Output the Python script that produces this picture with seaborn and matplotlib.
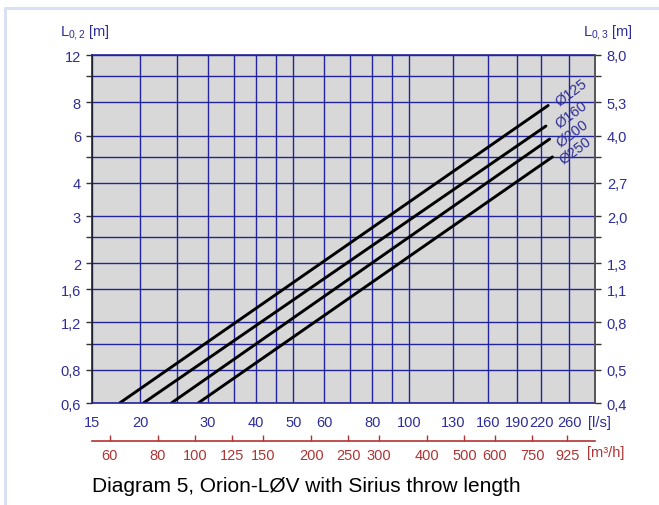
import numpy as np
import pandas as pd
import matplotlib
matplotlib.use("Agg")
import matplotlib.pyplot as plt
import seaborn as sns
from matplotlib.ticker import FixedLocator, FixedFormatter, NullLocator
from matplotlib.lines import Line2D

# ---------------- data ----------------
diameters = ["Ø125", "Ø160", "Ø200", "Ø250"]
flow_start = [17.7, 20.4, 24.1, 28.3]      # l/s
flow_end = [229, 226, 231, 235]            # l/s
length_start = [0.6, 0.6, 0.6, 0.6]        # L0,2 [m]
length_end = [7.77, 6.51, 5.82, 4.99]      # L0,2 [m]

x_grid = [15, 20, 25, 30, 35, 40, 45, 50, 60, 70, 80, 90, 100, 130, 160, 190, 220, 260]
x_labels = ["15", "20", "", "30", "", "40", "", "50", "60", "", "80", "", "100",
            "130", "160", "190", "220", "260"]
y_grid = [0.6, 0.8, 1.0, 1.2, 1.6, 2, 2.5, 3, 4, 5, 6, 8, 10, 12]
y_left_labels = ["0,6", "0,8", "", "1,2", "1,6", "2", "", "3", "4", "", "6", "8", "", "12"]
y_right_labels = ["0,4", "0,5", "", "0,8", "1,1", "1,3", "", "2,0", "2,7", "", "4,0", "5,3", "", "8,0"]
m3h_ticks = [60, 80, 100, 125, 150, 200, 250, 300, 400, 500, 600, 750, 925]

# label anchor positions (l/s, m) for diameter annotations
label_q = [263, 263, 265, 270]
label_L = [8.75, 7.25, 6.15, 5.3]

df = pd.DataFrame({
    "dia": np.repeat(diameters, 2),
    "q": np.ravel(np.column_stack([flow_start, flow_end])),
    "L": np.ravel(np.column_stack([length_start, length_end])),
})

# ---------------- style ----------------
sns.set_style("white")
plt.rcParams["font.family"] = ["Liberation Sans", "DejaVu Sans"]
plt.rcParams["mathtext.fontset"] = "custom"
plt.rcParams["mathtext.rm"] = "Liberation Sans"
plt.rcParams["mathtext.it"] = "Liberation Sans"

navy = "#24249a"
blue_txt = "#2e2e98"
red = "#b03434"
bg = "#d8d8d8"
dark = "#333333"
fs = 10.5

fig = plt.figure(figsize=(6.59, 5.06), dpi=100)
ax = fig.add_axes([92 / 659, 1 - 404 / 506, 503 / 659, 348 / 506])
ax.set_facecolor(bg)
ax.set_xscale("log")
ax.set_yscale("log")

sns.lineplot(data=df, x="q", y="L", units="dia", estimator=None, color="black",
             linewidth=2.1, ax=ax, legend=False)

ax.set_xlim(15, 303)
ax.set_ylim(0.6, 12)

ax.xaxis.set_major_locator(FixedLocator(x_grid))
ax.xaxis.set_major_formatter(FixedFormatter(x_labels))
ax.xaxis.set_minor_locator(NullLocator())
ax.yaxis.set_major_locator(FixedLocator(y_grid))
ax.yaxis.set_major_formatter(FixedFormatter(y_left_labels))
ax.yaxis.set_minor_locator(NullLocator())
ax.grid(True, which="major", color=navy, linewidth=1.0)
ax.set_axisbelow(True)
ax.set_xlabel("")
ax.set_ylabel("")

ax.tick_params(axis="x", direction="out", length=4.5, width=1.0, color=dark,
               labelcolor=blue_txt, labelsize=fs, pad=4)
ax.tick_params(axis="y", direction="out", length=4.5, width=1.0, color=dark,
               labelcolor=blue_txt, labelsize=fs, pad=3.5)
ax.spines["left"].set_color("#222222")
ax.spines["right"].set_color("#555555")
ax.spines["top"].set_color(navy)
ax.spines["bottom"].set_color(navy)
for s in ax.spines.values():
    s.set_linewidth(1.2)

# right axis (L0,3)
ax2 = ax.twinx()
ax2.set_yscale("log")
ax2.set_ylim(0.6, 12)
ax2.yaxis.set_major_locator(FixedLocator(y_grid))
ax2.yaxis.set_major_formatter(FixedFormatter(y_right_labels))
ax2.yaxis.set_minor_locator(NullLocator())
ax2.tick_params(axis="y", direction="out", length=4.5, width=1.0, color=dark,
                labelcolor=blue_txt, labelsize=fs, pad=4)
for side, s in ax2.spines.items():
    s.set_visible(side == "right")
ax2.spines["right"].set_color("#555555")
ax2.spines["right"].set_linewidth(1.2)

# secondary flow axis in m3/h
sec = ax.secondary_xaxis(-0.108, functions=(lambda q: q * 3.6, lambda m: m / 3.6))
sec.xaxis.set_major_locator(FixedLocator(m3h_ticks))
sec.xaxis.set_major_formatter(FixedFormatter([str(v) for v in m3h_ticks]))
sec.xaxis.set_minor_locator(NullLocator())
sec.spines["bottom"].set_color(red)
sec.spines["bottom"].set_linewidth(1.2)
sec.tick_params(axis="x", direction="in", length=4.5, width=1.0, color=red,
                labelcolor=red, labelsize=fs, pad=5)

# diameter labels
for name, q, L in zip(diameters, label_q, label_L):
    ax.text(q, L, name, rotation=37, ha="center", va="center",
            rotation_mode="anchor", color=blue_txt, fontsize=10.5, clip_on=False)

# axis titles and units
fig.text(60 / 659, 1 - 32 / 506, r"L$_{0,2}$ [m]", ha="left", va="center",
         color=blue_txt, fontsize=fs)
fig.text(583 / 659, 1 - 32 / 506, r"L$_{0,3}$ [m]", ha="left", va="center",
         color=blue_txt, fontsize=fs)
fig.text(588 / 659, 1 - 423 / 506, "[l/s]", ha="left", va="center",
         color=blue_txt, fontsize=fs)
fig.text(587 / 659, 1 - 453 / 506, "[m³/h]", ha="left", va="center",
         color=red, fontsize=fs)

# caption
fig.text(92 / 659, 1 - 487 / 506, "Diagram 5, Orion-LØV with Sirius throw length",
         ha="left", va="center", color="black", fontsize=15)

# light frame
fig.add_artist(Line2D([5 / 659, 1], [1 - 9 / 506, 1 - 9 / 506], transform=fig.transFigure,
                      color="#dbe1f4", linewidth=2.2))
fig.add_artist(Line2D([5 / 659, 5 / 659], [0, 1 - 9 / 506], transform=fig.transFigure,
                      color="#dbe1f4", linewidth=2.2))

fig.savefig("out.png", dpi=100)
